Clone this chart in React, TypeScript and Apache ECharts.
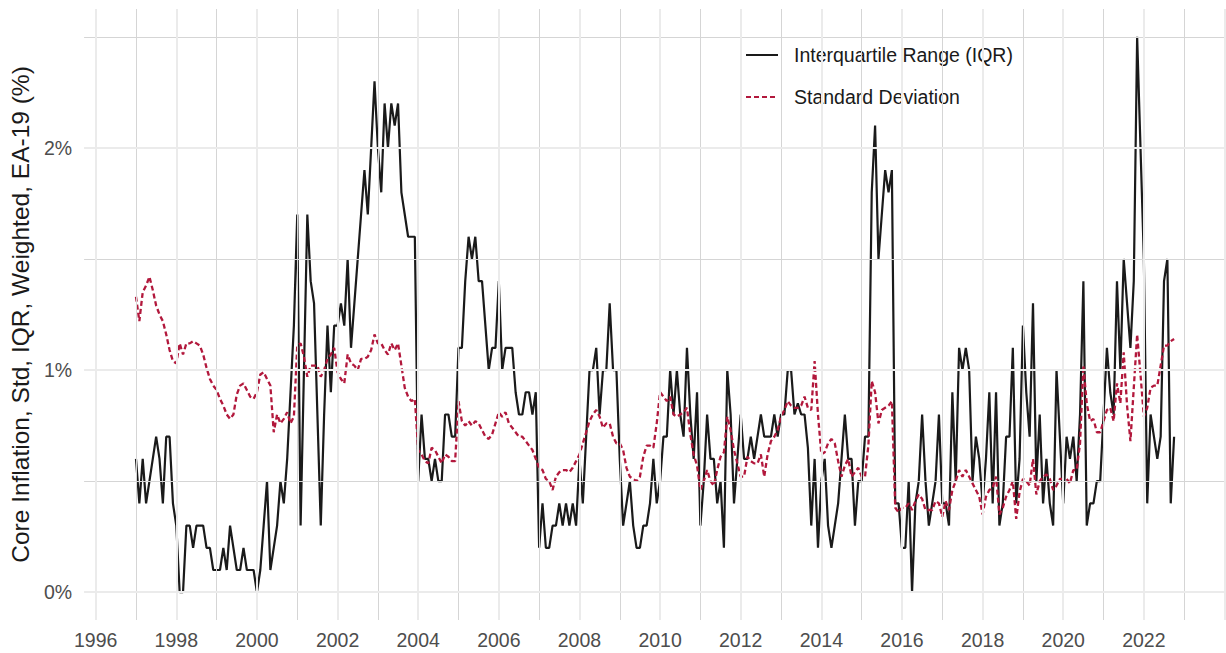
import React, { useEffect, useRef } from "react";
import * as echarts from "echarts";

// ---- DATA (monthly, Jan 1997 – Oct 2022, % points) ----
const START_YEAR = 1997;

const iqr: number[] = [
  0.6, 0.4, 0.6, 0.4, 0.5, 0.6, 0.7, 0.6, 0.4, 0.7, 0.7, 0.4, // 1997
  0.3, 0.0, 0.0, 0.3, 0.3, 0.2, 0.3, 0.3, 0.3, 0.2, 0.2, 0.1, // 1998
  0.1, 0.1, 0.2, 0.1, 0.3, 0.2, 0.1, 0.1, 0.2, 0.1, 0.1, 0.1, // 1999
  0.0, 0.1, 0.3, 0.5, 0.1, 0.2, 0.3, 0.5, 0.4, 0.6, 0.9, 1.2, // 2000
  1.7, 0.3, 1.0, 1.7, 1.4, 1.3, 0.8, 0.3, 0.8, 1.2, 0.9, 1.2, // 2001
  1.2, 1.3, 1.2, 1.5, 1.1, 1.3, 1.5, 1.7, 1.9, 1.7, 2.0, 2.3, // 2002
  2.0, 1.8, 2.2, 2.0, 2.2, 2.1, 2.2, 1.8, 1.7, 1.6, 1.6, 1.6, // 2003
  0.5, 0.8, 0.6, 0.6, 0.5, 0.6, 0.5, 0.5, 0.8, 0.8, 0.7, 0.7, // 2004
  1.1, 1.1, 1.4, 1.6, 1.5, 1.6, 1.4, 1.4, 1.2, 1.0, 1.1, 1.1, // 2005
  1.4, 1.0, 1.1, 1.1, 1.1, 0.9, 0.8, 0.8, 0.9, 0.9, 0.8, 0.9, // 2006
  0.2, 0.4, 0.2, 0.2, 0.3, 0.3, 0.4, 0.3, 0.4, 0.3, 0.4, 0.3, // 2007
  0.6, 0.4, 0.7, 1.0, 1.0, 1.1, 0.8, 1.0, 1.0, 1.3, 1.0, 1.0, // 2008
  0.6, 0.3, 0.4, 0.5, 0.3, 0.2, 0.2, 0.3, 0.3, 0.4, 0.6, 0.4, // 2009
  0.5, 0.7, 0.7, 1.0, 0.8, 1.0, 0.8, 0.7, 1.1, 0.8, 0.6, 0.9, // 2010
  0.3, 0.5, 0.8, 0.6, 0.6, 0.4, 0.5, 0.2, 1.0, 0.8, 0.4, 0.6, // 2011
  0.8, 0.6, 0.6, 0.7, 0.6, 0.7, 0.8, 0.7, 0.7, 0.7, 0.8, 0.7, // 2012
  0.8, 0.8, 1.0, 1.0, 0.8, 0.85, 0.8, 0.8, 0.65, 0.3, 0.6, 0.2, // 2013
  0.5, 0.6, 0.3, 0.2, 0.3, 0.4, 0.6, 0.8, 0.6, 0.6, 0.3, 0.5, // 2014
  0.5, 0.7, 0.7, 1.8, 2.1, 1.5, 1.7, 1.9, 1.8, 1.9, 0.4, 0.4, // 2015
  0.2, 0.2, 0.5, 0.0, 0.4, 0.5, 0.8, 0.5, 0.3, 0.4, 0.5, 0.8, // 2016
  0.4, 0.4, 0.3, 0.9, 0.5, 1.1, 1.0, 1.1, 1.0, 0.5, 0.7, 0.6, // 2017
  0.4, 0.6, 0.9, 0.4, 0.9, 0.3, 0.4, 0.7, 0.7, 1.1, 0.4, 0.6, // 2018
  1.2, 0.9, 0.7, 1.3, 0.5, 0.8, 0.4, 0.6, 0.4, 0.3, 1.0, 0.7, // 2019
  0.4, 0.7, 0.6, 0.7, 0.5, 0.8, 1.4, 0.3, 0.4, 0.4, 0.5, 0.5, // 2020
  0.8, 1.1, 0.9, 0.8, 1.4, 1.0, 1.5, 1.3, 1.1, 1.4, 2.5, 2.0, // 2021
  1.5, 0.4, 0.8, 0.7, 0.6, 0.7, 1.4, 1.5, 0.4, 0.7,           // 2022
];

const stdDev: number[] = [
  1.33, 1.22, 1.35, 1.38, 1.42, 1.36, 1.29, 1.25, 1.22, 1.16, 1.09, 1.04, // 1997
  1.03, 1.12, 1.07, 1.12, 1.12, 1.13, 1.12, 1.11, 1.07, 1.01, 0.96, 0.93, // 1998
  0.91, 0.87, 0.84, 0.80, 0.78, 0.80, 0.89, 0.93, 0.94, 0.91, 0.88, 0.87, // 1999
  0.90, 0.98, 0.99, 0.96, 0.93, 0.72, 0.80, 0.76, 0.78, 0.81, 0.76, 0.79, // 2000
  1.11, 1.12, 1.06, 0.97, 1.02, 1.02, 1.02, 0.97, 1.00, 1.05, 1.07, 1.10, // 2001
  0.99, 0.96, 0.94, 1.07, 1.03, 1.02, 1.00, 1.05, 1.05, 1.06, 1.09, 1.16, // 2002
  1.12, 1.12, 1.09, 1.07, 1.12, 1.09, 1.12, 1.02, 0.92, 0.88, 0.86, 0.87, // 2003
  0.64, 0.62, 0.59, 0.58, 0.65, 0.64, 0.61, 0.58, 0.62, 0.61, 0.59, 0.59, // 2004
  0.86, 0.77, 0.75, 0.77, 0.75, 0.77, 0.76, 0.73, 0.70, 0.69, 0.71, 0.76, // 2005
  0.81, 0.79, 0.81, 0.76, 0.74, 0.72, 0.70, 0.70, 0.68, 0.66, 0.64, 0.60, // 2006
  0.56, 0.55, 0.51, 0.50, 0.46, 0.52, 0.54, 0.55, 0.55, 0.54, 0.56, 0.59, // 2007
  0.62, 0.67, 0.72, 0.77, 0.80, 0.82, 0.79, 0.74, 0.76, 0.76, 0.70, 0.67, // 2008
  0.67, 0.64, 0.56, 0.52, 0.51, 0.50, 0.52, 0.61, 0.66, 0.66, 0.65, 0.76, // 2009
  0.90, 0.88, 0.86, 0.88, 0.80, 0.79, 0.80, 0.81, 0.83, 0.71, 0.62, 0.57, // 2010
  0.46, 0.50, 0.55, 0.50, 0.48, 0.55, 0.61, 0.63, 0.79, 0.73, 0.64, 0.58, // 2011
  0.52, 0.52, 0.61, 0.59, 0.58, 0.58, 0.62, 0.52, 0.62, 0.68, 0.70, 0.73, // 2012
  0.79, 0.82, 0.86, 0.84, 0.83, 0.83, 0.84, 0.88, 0.83, 0.82, 1.04, 0.80, // 2013
  0.62, 0.63, 0.67, 0.69, 0.67, 0.59, 0.52, 0.57, 0.60, 0.52, 0.54, 0.56, // 2014
  0.52, 0.52, 0.66, 0.95, 0.90, 0.76, 0.82, 0.83, 0.84, 0.86, 0.38, 0.36, // 2015
  0.38, 0.38, 0.40, 0.37, 0.41, 0.44, 0.42, 0.37, 0.37, 0.37, 0.41, 0.40, // 2016
  0.34, 0.41, 0.37, 0.46, 0.50, 0.55, 0.52, 0.55, 0.52, 0.49, 0.46, 0.43, // 2017
  0.35, 0.43, 0.46, 0.47, 0.52, 0.35, 0.38, 0.43, 0.46, 0.50, 0.33, 0.45, // 2018
  0.51, 0.50, 0.48, 0.60, 0.44, 0.50, 0.52, 0.53, 0.51, 0.46, 0.48, 0.51, // 2019
  0.51, 0.51, 0.49, 0.55, 0.55, 0.67, 1.02, 0.85, 0.77, 0.78, 0.72, 0.72, // 2020
  0.77, 0.82, 0.83, 0.77, 0.94, 0.85, 1.08, 0.84, 0.68, 0.92, 1.16, 0.98, // 2021
  0.79, 0.83, 0.92, 0.93, 0.93, 1.02, 1.11, 1.11, 1.13, 1.14,             // 2022
];

const seriesNames = ["Interquartile Range (IQR)", "Standard Deviation"];
const xTickYears = [1996, 1998, 2000, 2002, 2004, 2006, 2008, 2010, 2012, 2014, 2016, 2018, 2020, 2022];
const yTickValues = [0, 1, 2];
const yAxisTitle = "Core Inflation, Std, IQR, Weighted, EA-19 (%)";

const FONT = "'Liberation Sans', Arial, Helvetica, sans-serif";

export default function App() {
  const ref = useRef<HTMLDivElement>(null);

  useEffect(() => {
    if (!ref.current) return;
    const chart = echarts.init(ref.current, null, { renderer: "svg" });

    const toPoints = (vals: number[]) => vals.map((v, i) => [START_YEAR + i / 12, v]);

    const xFirst = START_YEAR;
    const xLast = START_YEAR + (iqr.length - 1) / 12;
    const xPad = (xLast - xFirst) * 0.05;
    const allVals = [...iqr, ...stdDev];
    const yLo = Math.min(...allVals);
    const yHi = Math.max(...allVals);
    const yPad = (yHi - yLo) * 0.05;
    const xMin = xFirst - xPad;
    const xMax = xLast + xPad;
    const yMin = yLo - yPad;
    const yMax = yHi + yPad;

    const majorGrid = { color: "#ebebeb", width: 2, type: "solid" as const };
    const minorGrid = { color: "#d5d5d5", width: 1, type: "solid" as const };

    const minorLines: any[] = [];
    const majorLines: any[] = [];
    for (let y = Math.ceil(xMin); y <= xMax; y++) {
      if (y % 2 === 0) majorLines.push({ xAxis: y, lineStyle: majorGrid });
      else minorLines.push({ xAxis: y, lineStyle: minorGrid });
    }
    for (let v = 0; v <= yMax + 1e-9; v += 0.5) {
      if (Math.abs(v - Math.round(v)) < 1e-9) majorLines.push({ yAxis: v, lineStyle: majorGrid });
      else minorLines.push({ yAxis: v, lineStyle: minorGrid });
    }

    const option: any = {
      animation: false,
      backgroundColor: "#ffffff",
      textStyle: { fontFamily: FONT },
      grid: { left: 82, right: 0, top: 9, bottom: 33, containLabel: false },
      xAxis: {
        type: "value",
        min: xMin,
        max: xMax,
        axisLine: { show: false },
        axisTick: { show: false },
        splitLine: { show: false },
        axisLabel: {
          customValues: xTickYears,
          formatter: (v: number) => String(Math.round(v)),
          color: "#4d4d4d",
          fontSize: 19.5,
          fontFamily: FONT,
          margin: 10,
        },
      },
      yAxis: {
        type: "value",
        min: yMin,
        max: yMax,
        axisLine: { show: false },
        axisTick: { show: false },
        splitLine: { show: false },
        axisLabel: {
          customValues: yTickValues,
          formatter: (v: number) => `${Math.round(v)}%`,
          color: "#4d4d4d",
          fontSize: 19.5,
          fontFamily: FONT,
          margin: 12,
        },
        name: yAxisTitle,
        nameLocation: "middle",
        nameRotate: 90,
        nameGap: 48,
        nameTextStyle: { fontSize: 24.5, color: "#1a1a1a", fontFamily: FONT },
      },
      legend: {
        data: seriesNames,
        orient: "vertical",
        left: 745,
        top: 45,
        padding: 0,
        itemWidth: 32,
        itemHeight: 14,
        itemGap: 22,
        itemStyle: { opacity: 0 },
        textStyle: { fontSize: 19.5, color: "#1a1a1a", fontFamily: FONT, padding: [0, 0, 0, 11] },
      },
      series: [
        {
          name: "grid",
          type: "line",
          data: [],
          silent: true,
          z: 0,
          markLine: {
            silent: true,
            symbol: ["none", "none"],
            label: { show: false },
            animation: false,
            data: [...minorLines, ...majorLines],
          },
        },
        {
          name: seriesNames[0],
          type: "line",
          data: toPoints(iqr),
          symbol: "none",
          showSymbol: false,
          lineStyle: { color: "#1a1a1a", width: 2.2 },
          itemStyle: { color: "#1a1a1a" },
          z: 3,
        },
        {
          name: seriesNames[1],
          type: "line",
          data: toPoints(stdDev),
          symbol: "none",
          showSymbol: false,
          lineStyle: { color: "#B2183C", width: 2.3, type: [5, 3] },
          itemStyle: { color: "#B2183C" },
          z: 4,
        },
      ],
    };

    chart.setOption(option);
    return () => chart.dispose();
  }, []);

  return (
    <div
      ref={ref}
      style={{ position: "fixed", left: 0, top: 0, width: 1226, height: 653, background: "#fff" }}
    />
  );
}
